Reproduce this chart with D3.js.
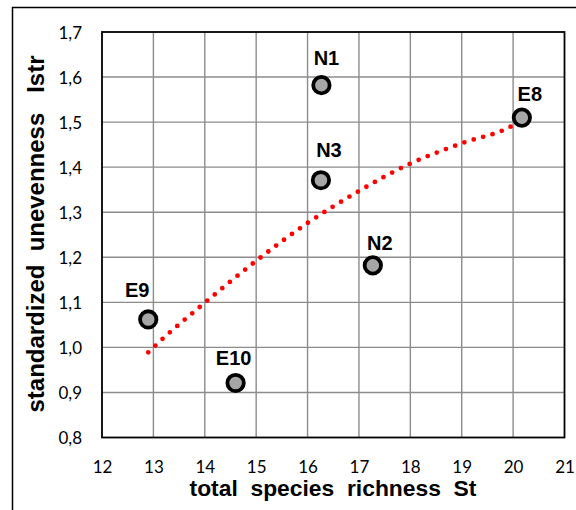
<!DOCTYPE html>
<html>
<head>
<meta charset="utf-8">
<script src="https://cdn.jsdelivr.net/npm/d3@7"></script>
<style>
  html, body { margin: 0; padding: 0; background: #fff; }
  svg { display: block; }
</style>
</head>
<body>
<svg id="chart" width="576" height="510"></svg>
<script>
// ---- data ----
const labels = ["N1", "N2", "N3", "E8", "E9", "E10"];
const richness = [16.27, 17.27, 16.26, 20.17, 12.9, 14.6];
const unevenness = [1.582, 1.182, 1.371, 1.510, 1.062, 0.921];

const trendX = [12.9, 13, 14, 15, 16, 17, 18, 19, 20, 20.1];
const trendY = [0.989, 1.0, 1.099, 1.192, 1.276, 1.347, 1.408, 1.453, 1.493, 1.500];

const xTicks = [12, 13, 14, 15, 16, 17, 18, 19, 20, 21];
const yTicks = [0.8, 0.9, 1.0, 1.1, 1.2, 1.3, 1.4, 1.5, 1.6, 1.7];

const xTitle = "total  species  richness  St";
const yTitle = "standardized  unevenness   Istr";

// ---- layout ----
const svg = d3.select("#chart");
const plot = { left: 102, top: 32, right: 564.5, bottom: 437.5 };
const boldFont = "'Liberation Sans', Arial, sans-serif";
const tickFont = "Lato, 'Open Sans', sans-serif";

const x = d3.scaleLinear().domain([12, 21]).range([plot.left, plot.right]);
const y = d3.scaleLinear().domain([0.8, 1.7]).range([plot.bottom, plot.top]);

// outer frame (extends beyond the visible area to the right and bottom)
svg.append("rect")
  .attr("x", 12.5).attr("y", 7.5)
  .attr("width", 620).attr("height", 560)
  .attr("fill", "none").attr("stroke", "#000").attr("stroke-width", 1.5);

// grid lines
const grid = svg.append("g");
grid.selectAll("line.vx").data(xTicks.slice(1, -1)).join("line")
  .attr("x1", d => x(d)).attr("x2", d => x(d))
  .attr("y1", plot.top).attr("y2", plot.bottom)
  .attr("stroke", "#8c8c8c").attr("stroke-width", 1.4);
grid.selectAll("line.hy").data(yTicks.slice(1, -1)).join("line")
  .attr("x1", plot.left).attr("x2", plot.right)
  .attr("y1", d => y(d)).attr("y2", d => y(d))
  .attr("stroke", "#8c8c8c").attr("stroke-width", 1.4);

// plot border
svg.append("rect")
  .attr("x", plot.left).attr("y", plot.top)
  .attr("width", plot.right - plot.left).attr("height", plot.bottom - plot.top)
  .attr("fill", "none").attr("stroke", "#000").attr("stroke-width", 1.8);

// x axis tick labels
const xAxis = d3.axisBottom(x).tickValues(xTicks).tickSize(0).tickPadding(0)
  .tickFormat(d => String(d));
const gx = svg.append("g").attr("transform", `translate(0,${plot.bottom})`).call(xAxis)
  .attr("font-family", tickFont).attr("font-size", 17);
gx.select(".domain").remove();
gx.selectAll("text")
  .attr("y", 35).attr("dy", null).attr("fill", "#000");

// y axis tick labels
const fmt = d => d3.format(".1f")(d).replace(".", ",");
const yAxis = d3.axisLeft(y).tickValues(yTicks).tickSize(0).tickPadding(0).tickFormat(fmt);
const gy = svg.append("g").attr("transform", `translate(${plot.left},0)`).call(yAxis)
  .attr("font-family", tickFont).attr("font-size", 17);
gy.select(".domain").remove();
gy.selectAll("text")
  .attr("x", -20).attr("dy", "0.36em").attr("fill", "#000");

// trend line (dotted red)
const line = d3.line().x((d, i) => x(trendX[i])).y(d => y(d)).curve(d3.curveMonotoneX);
svg.append("path")
  .datum(trendY)
  .attr("d", line)
  .attr("fill", "none")
  .attr("stroke", "#ff0000")
  .attr("stroke-width", 4.8)
  .attr("stroke-linecap", "round")
  .attr("stroke-dasharray", "0 9.8");

// points
const pts = labels.map((l, i) => ({ l, xv: richness[i], yv: unevenness[i] }));
svg.append("g").selectAll("circle").data(pts).join("circle")
  .attr("cx", d => x(d.xv)).attr("cy", d => y(d.yv))
  .attr("r", 8.2)
  .attr("fill", "#a6a6a6")
  .attr("stroke", "#000")
  .attr("stroke-width", 3.8);

// data labels (manual nudges as in the reference)
const nudge = { N1: [5, -20], N2: [7, -15], N3: [8, -23], E8: [8, -17], E9: [-11, -22], E10: [-2, -18] };
svg.append("g").selectAll("text").data(pts).join("text")
  .attr("x", d => x(d.xv) + nudge[d.l][0])
  .attr("y", d => y(d.yv) + nudge[d.l][1])
  .attr("text-anchor", "middle")
  .attr("font-family", boldFont)
  .attr("font-size", 20).attr("font-weight", 700).attr("fill", "#000")
  .text(d => d.l);

// axis titles, sized so their length matches the reference
function fitText(sel, target) {
  const fs = +sel.attr("font-size");
  const w = sel.node().getComputedTextLength();
  if (w > 0) sel.attr("font-size", (fs * target / w).toFixed(2));
}
const xt = svg.append("text")
  .attr("x", 333).attr("y", 496)
  .attr("text-anchor", "middle")
  .attr("font-family", boldFont)
  .attr("font-size", 20).attr("font-weight", 700).attr("fill", "#000")
  .style("white-space", "pre")
  .text(xTitle);
fitText(xt, 287);

const yt = svg.append("text")
  .attr("transform", "translate(44,234) rotate(-90)")
  .attr("text-anchor", "middle")
  .attr("font-family", boldFont)
  .attr("font-size", 20).attr("font-weight", 700).attr("fill", "#000")
  .style("white-space", "pre")
  .text(yTitle);
fitText(yt, 357);
</script>
</body>
</html>
